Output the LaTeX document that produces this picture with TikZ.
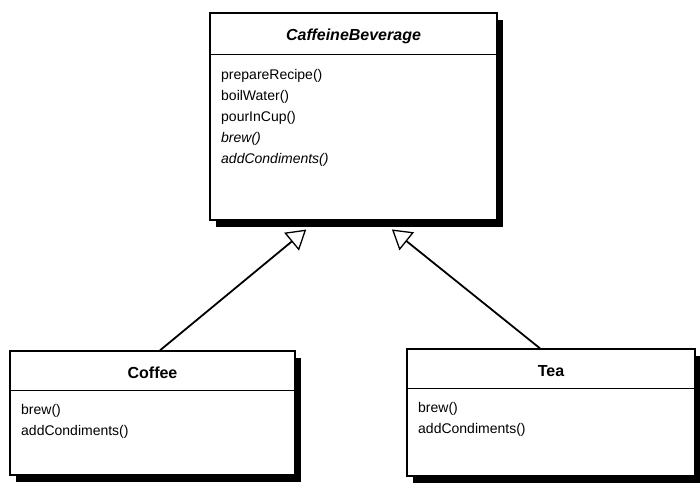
\documentclass[tikz,border=0pt]{standalone}
\usepackage{fontspec}
\setmainfont{Liberation Sans}
\usetikzlibrary{arrows.meta,shadows,calc}

\tikzset{
  umlclass/.style={draw=black, line width=1.3pt, fill=white, inner sep=0pt,
    drop shadow={shadow xshift=6pt, shadow yshift=-7pt, fill=black, opacity=1}},
  classname/.style={font=\fontsize{16}{18}\selectfont\bfseries},
  methods/.style={anchor=north west, align=left, inner sep=0pt, font=\fontsize{14}{21}\selectfont},
  inherits/.style={line width=1.8pt, shorten >=14pt, -{Triangle[length=19pt,width=23pt,fill=white,line width=1.3pt]}}
}

\begin{document}
\begin{tikzpicture}[x=1pt,y=-1pt]
\useasboundingbox (0,0) rectangle (700,482);
% the abstract class
\node[umlclass,minimum width=287pt,minimum height=207pt] (bev) at (353.5,116.5) {};
\node[classname] (bevname) at (353.5,36) {\itshape CaffeineBeverage};
\draw[line width=1.3pt] ($(bev.north west)+(0,42)$) -- ($(bev.north east)+(0,42)$);
\node[methods] (bevops) at (221,69) {prepareRecipe()\\boilWater()\\pourInCup()\\\textit{brew()}\\\textit{addCondiments()}};
% the two subclasses
\node[umlclass,minimum width=285pt,minimum height=124pt] (coffee) at (152.5,413) {};
\node[classname] (coffeename) at (152.5,373) {Coffee};
\draw[line width=1.3pt] ($(coffee.north west)+(0,40)$) -- ($(coffee.north east)+(0,40)$);
\node[methods] (coffeeops) at (21,404) {brew()\\addCondiments()};
\node[umlclass,minimum width=288pt,minimum height=127pt] (tea) at (551,412.5) {};
\node[classname] (teaname) at (551,371) {Tea};
\draw[line width=1.3pt] ($(tea.north west)+(0,40)$) -- ($(tea.north east)+(0,40)$);
\node[methods] (teaops) at (418,402) {brew()\\addCondiments()};
% generalization arrows
\draw[inherits] ($(coffee.north)+(7.5,0)$) -- ($(bev.south)+(-36.5,0)$);
\draw[inherits] ($(tea.north)+(-11,0)$) -- ($(bev.south)+(27.5,0)$);
\end{tikzpicture}
\end{document}
